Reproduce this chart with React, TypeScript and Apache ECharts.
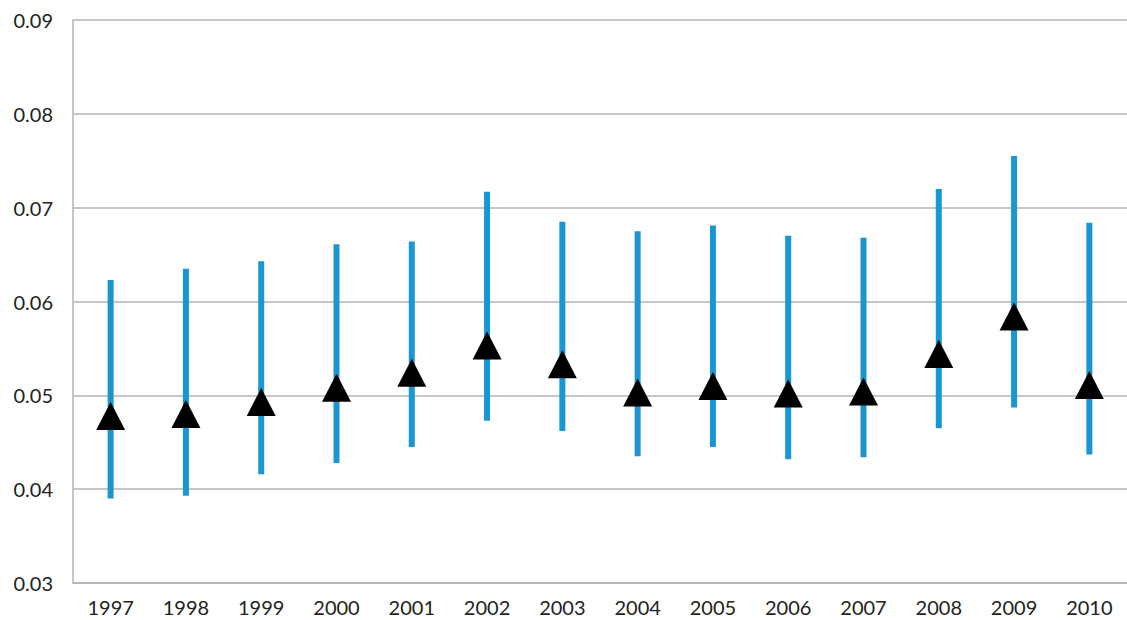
import React, { useEffect, useRef } from "react";
import * as echarts from "echarts";

const years = ["1997", "1998", "1999", "2000", "2001", "2002", "2003", "2004", "2005", "2006", "2007", "2008", "2009", "2010"];
const pointValues = [0.0478, 0.048, 0.0493, 0.0508, 0.0524, 0.0553, 0.0533, 0.0503, 0.051, 0.0502, 0.0504, 0.0544, 0.0584, 0.0511];
const lowValues = [0.039, 0.0393, 0.0416, 0.0428, 0.0445, 0.0473, 0.0462, 0.0435, 0.0445, 0.0432, 0.0434, 0.0465, 0.0487, 0.0437];
const highValues = [0.0623, 0.0635, 0.0643, 0.0661, 0.0664, 0.0717, 0.0685, 0.0675, 0.0681, 0.067, 0.0668, 0.072, 0.0755, 0.0684];
const yTicks = { min: 0.03, max: 0.09, interval: 0.01 };

export default function App() {
  const ref = useRef<HTMLDivElement>(null);
  useEffect(() => {
    if (!ref.current) return;
    const chart = echarts.init(ref.current, undefined, { renderer: "svg" });
    const gridColor = "#b3b3b3";
    chart.setOption({
      animation: false,
      backgroundColor: "#ffffff",
      grid: { left: 73, top: 20, width: 1061, height: 563, containLabel: false },
      xAxis: {
        type: "category",
        data: years,
        boundaryGap: true,
        axisLine: { show: true, lineStyle: { color: gridColor, width: 1.5 } },
        axisTick: { show: false },
        axisLabel: { color: "#222222", fontFamily: "Lato", fontSize: 20, margin: 14 },
        splitLine: { show: false },
      },
      yAxis: {
        type: "value",
        min: yTicks.min,
        max: yTicks.max,
        interval: yTicks.interval,
        axisLine: { show: true, lineStyle: { color: gridColor, width: 1.5 } },
        axisTick: { show: false },
        axisLabel: {
          color: "#222222",
          fontFamily: "Lato",
          fontSize: 20,
          margin: 20,
          formatter: (v: number) => v.toFixed(2),
        },
        splitLine: { show: true, lineStyle: { color: gridColor, width: 1.5 } },
      },
      series: [
        {
          type: "custom",
          data: years.map((_, i) => [i, lowValues[i], highValues[i]]),
          encode: { x: 0, y: [1, 2] },
          renderItem: (params: any, api: any) => {
            const x = api.value(0);
            const p1 = api.coord([x, api.value(1)]);
            const p2 = api.coord([x, api.value(2)]);
            return {
              type: "line",
              shape: { x1: p1[0], y1: p1[1], x2: p2[0], y2: p2[1] },
              style: { stroke: "#1a96d4", lineWidth: 6 },
            };
          },
          z: 2,
        },
        {
          type: "scatter",
          data: pointValues,
          symbol: "triangle",
          symbolSize: [29, 28],
          itemStyle: { color: "#000000", opacity: 1 },
          z: 3,
        },
      ],
    });
    return () => chart.dispose();
  }, []);
  return (
    <div
      ref={ref}
      style={{ position: "fixed", left: 0, top: 0, width: 1127, height: 620, background: "#fff" }}
    />
  );
}
